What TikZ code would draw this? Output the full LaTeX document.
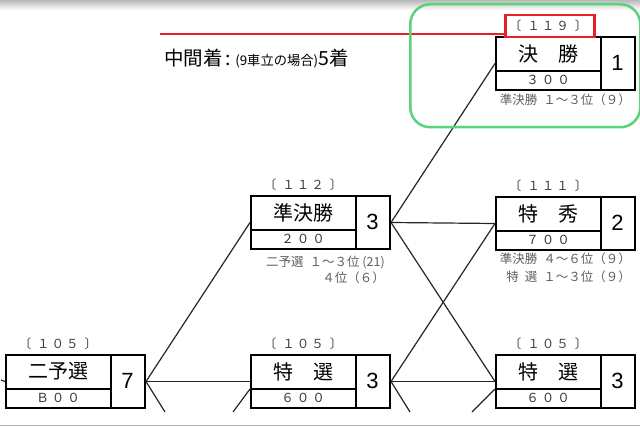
\documentclass[tikz,border=0pt]{standalone}
\usepackage{fontspec}
\setmainfont{Noto Sans CJK JP}
\newfontfamily\arialf{Liberation Sans}
\usetikzlibrary{calc}
\definecolor{boxgreen}{RGB}{90,210,120}
\definecolor{boxred}{RGB}{232,30,40}
\definecolor{notegray}{RGB}{95,95,95}
\definecolor{lblgray}{RGB}{60,60,75}
\tikzset{
  boxframe/.style={draw=black, line width=2pt, minimum width=139pt, minimum height=53pt, inner sep=0pt, anchor=north west},
  divider/.style={draw=black, line width=1.5pt},
  titletext/.style={font=\fontsize{20}{20}\selectfont, inner sep=0pt},
  subtext/.style={font=\fontsize{12.5}{12}\selectfont, text=black!80, inner sep=0pt},
  numtext/.style={font=\arialf\fontsize{22}{22}\selectfont, inner sep=0pt},
  lbltext/.style={font=\fontsize{12.5}{12}\selectfont, text=lblgray, inner sep=0pt},
  notetext/.style={font=\fontsize{12.5}{12}\selectfont, text=notegray, inner sep=0pt, anchor=east},
  conn/.style={draw=black!85, line width=1.2pt},
}
\newcommand{\racebox}[7]{%
  \node[boxframe] (#1) at (#2,#3) {};
  \draw[divider] ({#2+106},#3) -- ({#2+106},{#3+53});
  \draw[divider] (#2,{#3+35}) -- ({#2+106},{#3+35});
  \node[titletext] (#1-title) at ({#2+53},{#3+17.5}) {#4};
  \node[subtext] (#1-sub) at ({#2+53},{#3+44}) {#5};
  \node[numtext] (#1-num) at ({#2+122.5},{#3+26.5}) {#6};
  \node[lbltext] (#1-lbl) at ({#2+53},{#3-10}) {#7};
}
\newcommand{\lbl}[1]{〔\hspace{6pt}#1\hspace{6pt}〕}
\begin{document}
\begin{tikzpicture}[x=1pt,y=-1pt]
\useasboundingbox (0,0) rectangle (640,427);
\fill[white] (0,0) rectangle (640,427);
\shade[top color=gray!55, bottom color=white] (0,0) rectangle (640,10);
\draw[gray!60, line width=1pt] (0,426) -- (640,426);

% boxes
\racebox{kes}{495}{36}{決　勝}{３\hspace{3pt}０\hspace{3pt}０}{1}{\lbl{１\hspace{2pt}１\hspace{2pt}９}}
\racebox{jun}{250}{195}{準決勝}{２\hspace{3pt}０\hspace{3pt}０}{3}{\lbl{１\hspace{2pt}１\hspace{2pt}２}}
\racebox{tok}{495}{196}{特　秀}{７\hspace{3pt}０\hspace{3pt}０}{2}{\lbl{１\hspace{2pt}１\hspace{2pt}１}}
\racebox{ni}{5}{354}{二予選}{Ｂ\hspace{3pt}０\hspace{3pt}０}{7}{\lbl{１\hspace{2pt}０\hspace{2pt}５}}
\racebox{tsm}{250}{354}{特　選}{６\hspace{3pt}０\hspace{3pt}０}{3}{\lbl{１\hspace{2pt}０\hspace{2pt}５}}
\racebox{tsr}{495}{354}{特　選}{６\hspace{3pt}０\hspace{3pt}０}{3}{\lbl{１\hspace{2pt}０\hspace{2pt}５}}

% notes
\node[notetext] (n1) at (631,100) {準決勝\hspace{6pt}１～３位（９）};
\node[notetext] (n2) at (385,262) {二予選\hspace{6pt}１～３位 (21)};
\node[notetext] (n3) at (385,278) {４位（６）};
\node[notetext] (n4) at (631,259) {準決勝\hspace{6pt}４～６位（９）};
\node[notetext] (n5) at (631,277) {特\hspace{6pt}選\hspace{6pt}１～３位（９）};

% connectors
\coordinate (nistub) at (1,380);
\coordinate (niout) at (165,412);
\coordinate (tsmout) at (410,412);
\coordinate (tsmin) at (233,412);
\coordinate (tsrin) at (472,412);
\coordinate (tsmlow) at (250,389);
\coordinate (tsrlow) at (495,389);
\draw[conn] (jun.east) -- (kes.west);
\draw[conn] (jun.east) -- (tok.west);
\draw[conn] (jun.east) -- (tsr.west);
\draw[conn] (tsm.east) -- (tok.west);
\draw[conn] (tsm.east) -- (tsr.west);
\draw[conn] (ni.east) -- (jun.west);
\draw[conn] (ni.east) -- (tsm.west);
\draw[conn] (ni.east) -- (niout);
\draw[conn] (tsm.east) -- (tsmout);
\draw[conn] (tsmin) -- (tsmlow);
\draw[conn] (tsrin) -- (tsrlow);
\draw[conn] (nistub) -- (ni.west);

% heading
\node[anchor=west, inner sep=0pt] (head) at (164,59) {\fontsize{19.5}{19}\selectfont 中間着\,:\hspace{4pt}\fontsize{13.3}{12}\selectfont (9車立の場合)\fontsize{19.5}{19}\selectfont 5着};

% highlights
\coordinate (redstart) at (160,34);
\node[draw=boxred, line width=2.5pt, minimum width=89pt, minimum height=22pt, inner sep=0pt, anchor=north west] (redbox) at (504,14) {};
\draw[boxred, line width=2pt] (redstart) -- (redbox.west |- redstart);
\node[draw=boxgreen, line width=2.5pt, rounded corners=20pt, minimum width=230pt, minimum height=123pt, inner sep=0pt, anchor=north west] (greenbox) at (409,3) {};
\end{tikzpicture}
\end{document}
